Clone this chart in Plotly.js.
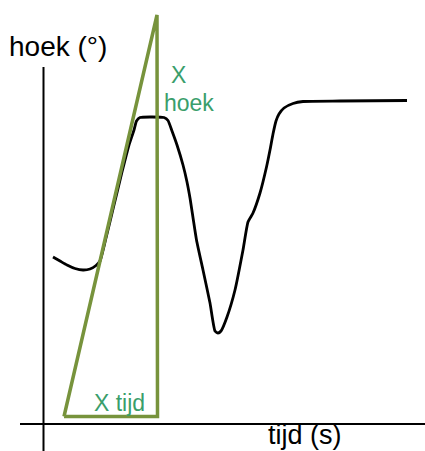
<!DOCTYPE html>
<html>
<head>
<meta charset="utf-8">
<script src="https://cdn.plot.ly/plotly-3.0.1.min.js"></script>
<style>
  html, body { margin: 0; padding: 0; background: #fff; }
  #chart { width: 425px; height: 451px; }
</style>
</head>
<body>
<div id="chart"></div>
<script>
// Sketched angle-versus-time curve (time and angle in drawing units, origin at the axis crossing)
var tijd = [9.5, 16.5, 23.5, 31.5, 39.5, 46.5, 52.5, 56.5, 62.5, 70.5, 78.5, 85.5, 90.5, 93, 96.5,
            108.5, 120.5, 124.5, 128.5, 133.5, 139.5, 143.5, 146.5, 153, 159.5, 166.5, 171.5, 174.5,
            177.5, 183.5, 191.5, 199.5, 204.5, 209.5, 216.5, 223, 226.5, 229.5, 232.5, 235.5, 240.5,
            249.5, 259.5, 296.5, 363.5];
var hoek = [167, 163, 159, 155.5, 154, 155, 158.5, 163, 186, 219, 252, 279, 294, 303, 306.5,
            307, 306.5, 303.5, 293, 279, 259, 242, 226, 184, 154, 121, 93, 91,
            93, 107, 134, 174, 202, 211, 231, 257, 274, 290, 303, 310, 316,
            320.5, 322.5, 323, 323.5];

// Slope triangle: corners (time, angle), closed back at the start
var driehoekTijd = [20.5, 113.5, 114, 20.5];
var driehoekHoek = [7.5, 409, 7.5, 7.5];

// Axis lines
var xAsTijd = [-23.5, 381.5];
var xAsHoek = [0, 0];
var yAsTijd = [0, 0];
var yAsHoek = [-27, 357];

var green = '#77933c';
var textGreen = '#3a9e6b';
var font = 'Liberation Sans, Arial, sans-serif';

var traces = [
  { x: xAsTijd, y: xAsHoek, mode: 'lines', line: { color: '#000', width: 2 }, hoverinfo: 'skip' },
  { x: yAsTijd, y: yAsHoek, mode: 'lines', line: { color: '#000', width: 2 }, hoverinfo: 'skip' },
  { x: tijd, y: hoek, mode: 'lines', line: { color: '#000', width: 2.8, shape: 'spline', smoothing: 0.5 } },
  { x: driehoekTijd, y: driehoekHoek, mode: 'lines', line: { color: green, width: 3.5 } }
];

var layout = {
  width: 425, height: 451,
  margin: { l: 0, r: 0, t: 0, b: 0 },
  paper_bgcolor: '#fff', plot_bgcolor: '#fff',
  showlegend: false,
  xaxis: { range: [-43.5, 381.5], visible: false, fixedrange: true },
  yaxis: { range: [-27, 424], visible: false, fixedrange: true },
  annotations: [
    { x: -36.5, y: 378, text: 'hoek (°)', showarrow: false, xanchor: 'left', yanchor: 'middle',
      font: { family: font, size: 28, color: '#000' } },
    { x: 222, y: -10.5, text: 'tijd (s)', showarrow: false, xanchor: 'left', yanchor: 'middle',
      font: { family: font, size: 27, color: '#000' } },
    { x: 48.5, y: 21.5, text: 'X tijd', showarrow: false, xanchor: 'left', yanchor: 'middle',
      font: { family: font, size: 23, color: textGreen } },
    { x: 125.5, y: 349, text: 'X', showarrow: false, xanchor: 'left', yanchor: 'middle',
      font: { family: font, size: 23, color: textGreen } },
    { x: 118.5, y: 321, text: 'hoek', showarrow: false, xanchor: 'left', yanchor: 'middle',
      font: { family: font, size: 23, color: textGreen } }
  ]
};

Plotly.newPlot('chart', traces, layout, { displayModeBar: false, staticPlot: true });
</script>
</body>
</html>
